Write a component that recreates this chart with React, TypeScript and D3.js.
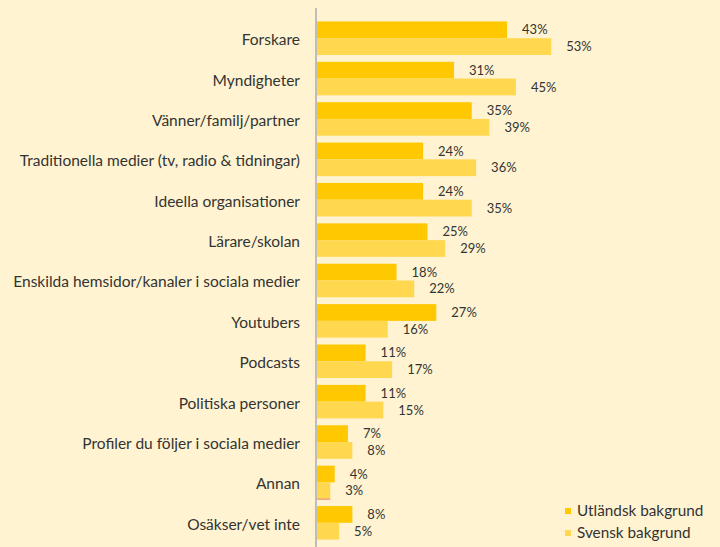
import React from "react";
import * as d3 from "d3";

const categories = [
  "Forskare",
  "Myndigheter",
  "Vänner/familj/partner",
  "Traditionella medier (tv, radio & tidningar)",
  "Ideella organisationer",
  "Lärare/skolan",
  "Enskilda hemsidor/kanaler i sociala medier",
  "Youtubers",
  "Podcasts",
  "Politiska personer",
  "Profiler du följer i sociala medier",
  "Annan",
  "Osäkser/vet inte",
];
const utlandsk = [43, 31, 35, 24, 24, 25, 18, 27, 11, 11, 7, 4, 8];
const svensk = [53, 45, 39, 36, 35, 29, 22, 16, 17, 15, 8, 3, 5];
const seriesNames = ["Utländsk bakgrund", "Svensk bakgrund"];
const colors = ["#FFC800", "#FFD84F"];

const W = 720;
const H = 547;
const FONT = "Lato, 'Open Sans', sans-serif";

export default function App() {
  const x0 = 317;
  const x = d3.scaleLinear().domain([0, 100]).range([x0, x0 + 442]);
  const y = d3
    .scaleBand<string>()
    .domain(categories)
    .range([18, 543])
    .paddingInner(0.17)
    .paddingOuter(0.085);
  const sub = d3
    .scaleBand<string>()
    .domain(seriesNames)
    .range([0, y.bandwidth()]);
  const series = [utlandsk, svensk];

  return (
    <svg
      width={W}
      height={H}
      style={{ position: "absolute", left: 0, top: 0, display: "block" }}
    >
      <rect width={W} height={H} fill="#FFF3D1" />
      {categories.map((c, i) => (
        <g key={c}>
          <text
            x={300}
            y={(y(c) ?? 0) + y.bandwidth() / 2 + 1.5}
            dy="0.35em"
            textAnchor="end"
            fontFamily={FONT}
            fontSize={15.5}
            fill="#333"
          >
            {c}
          </text>
          {series.map((vals, s) => {
            const by = (y(c) ?? 0) + (sub(seriesNames[s]) ?? 0);
            const bh = sub.bandwidth();
            return (
              <g key={s}>
                <rect
                  x={x(0)}
                  y={by}
                  width={x(vals[i]) - x(0)}
                  height={bh}
                  fill={colors[s]}
                />
                {c === "Annan" && s === 1 && (
                  <line
                    x1={x(0)}
                    x2={x(vals[i])}
                    y1={by + bh}
                    y2={by + bh}
                    stroke="#E88080"
                    strokeWidth={1}
                  />
                )}
                <text
                  x={x(vals[i]) + 15}
                  y={by + bh / 2}
                  dy="0.35em"
                  fontFamily={FONT}
                  fontSize={13}
                  fill="#333"
                >
                  {vals[i]}%
                </text>
              </g>
            );
          })}
        </g>
      ))}
      <line x1={316} x2={316} y1={8} y2={H} stroke="#BDBDBD" strokeWidth={2} />
      {seriesNames.map((n, i) => (
        <g key={n} transform={`translate(565, ${511 + i * 22})`}>
          <rect x={0} y={-3} width={6} height={6} fill={colors[i]} />
          <text
            x={12}
            y={0}
            dy="0.35em"
            fontFamily={FONT}
            fontSize={15.3}
            fill="#333"
          >
            {n}
          </text>
        </g>
      ))}
    </svg>
  );
}
